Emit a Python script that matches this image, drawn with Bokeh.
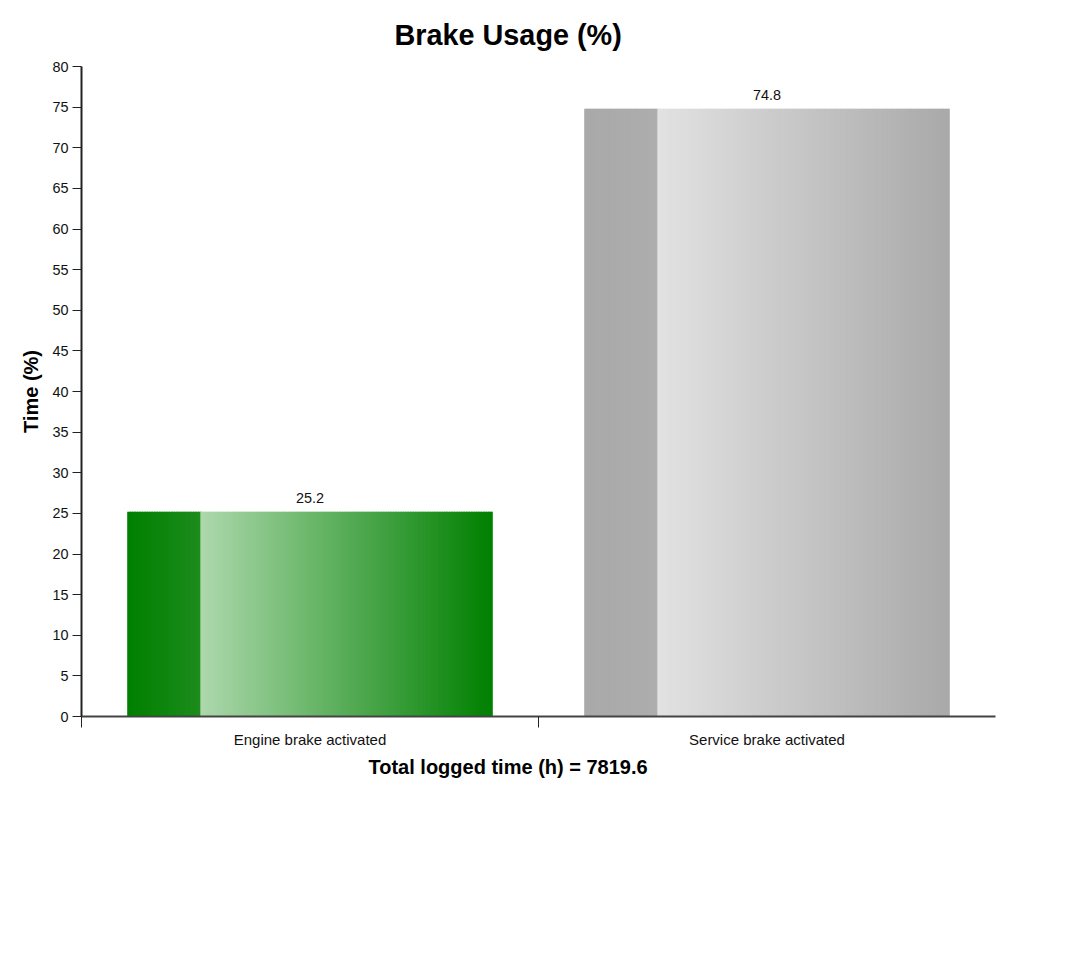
import numpy as np
from bokeh.plotting import figure
from bokeh.models import FixedTicker, Range1d, Title, ColumnDataSource
from bokeh.embed import file_html
from bokeh.resources import INLINE
from bokeh.core.properties import value

# ---- data ----
categories = ["Engine brake activated", "Service brake activated"]
values = [25.2, 74.8]
y_ticks = list(range(0, 81, 5))
total_logged_time = 7819.6
title_text = "Brake Usage (%)"
y_label = "Time (%)"

# gradient stops per bar (position within bar, colour)
stops = [
    [(0.0, "#008000"), (0.2, "#1c8c1c"), (0.2, "#add8ad"), (1.0, "#008000")],
    [(0.0, "#a9a9a9"), (0.2, "#adadad"), (0.2, "#e2e2e2"), (1.0, "#a9a9a9")],
]

FONT = "Liberation Sans"
SMALL = "14.4px"
CAT = "15px"
MED = "20px"
BIG = "28.8px"


def hex2rgb(h):
    h = h.lstrip("#")
    return np.array([int(h[i:i + 2], 16) for i in (0, 2, 4)], dtype=float)


def color_at(t, st):
    for (p0, c0), (p1, c1) in zip(st[:-1], st[1:]):
        if p0 <= t <= p1 and p1 > p0:
            f = (t - p0) / (p1 - p0)
            c = hex2rgb(c0) * (1 - f) + hex2rgb(c1) * f
            return "#%02x%02x%02x" % tuple(int(round(v)) for v in c)
    return st[-1][1]


p = figure(width=1060, height=956, output_backend="svg", toolbar_location=None,
           x_range=Range1d(0, len(categories)), y_range=Range1d(0, 80),
           min_border_left=81, min_border_right=65, min_border_top=66,
           min_border_bottom=240)
p.outline_line_color = None
p.xgrid.grid_line_color = None
p.ygrid.grid_line_color = None
p.background_fill_color = "white"
p.border_fill_color = "white"

# ---- gradient bars ----
pad = 0.1
nslices = 150
left, right, top, bottom, colors = [], [], [], [], []
for i, v in enumerate(values):
    x0 = i + pad
    w = 1 - 2 * pad
    edges = np.linspace(0, 1, nslices + 1)
    step = edges[1] - edges[0]
    for k, (a, b) in enumerate(zip(edges[:-1], edges[1:])):
        bb = b + step * 0.6 if k < nslices - 1 else b
        left.append(x0 + a * w)
        right.append(x0 + bb * w)
        top.append(v)
        bottom.append(0)
        colors.append(color_at((a + b) / 2, stops[i]))
src = ColumnDataSource(dict(left=left, right=right, top=top, bottom=bottom, color=colors))
p.quad(left="left", right="right", top="top", bottom="bottom", source=src,
       fill_color="color", line_color=None)

# value labels
centers = [i + 0.5 for i in range(len(categories))]
p.text(x=centers, y=values, text=[f"{v:.1f}" for v in values],
       text_align="center", text_baseline="bottom", y_offset=-9,
       text_font=value(FONT), text_font_size=SMALL, text_color="#111111")

# ---- axes ----
xa = p.xaxis[0]
xa.ticker = FixedTicker(ticks=centers, minor_ticks=list(range(len(categories))))
xa.major_label_overrides = {c: cat for c, cat in zip(centers, categories)}
xa.major_tick_in = 0
xa.major_tick_out = 0
xa.minor_tick_in = 0
xa.minor_tick_out = 11
xa.minor_tick_line_color = "#222222"
xa.minor_tick_line_width = 1
xa.axis_line_color = "#444444"
xa.axis_line_width = 2
xa.major_label_standoff = 3
xa.major_label_text_font = FONT
xa.major_label_text_font_size = CAT
xa.major_label_text_color = "#111111"

ya = p.yaxis[0]
ya.ticker = FixedTicker(ticks=y_ticks, minor_ticks=[])
ya.major_tick_in = 0
ya.major_tick_out = 9
ya.major_tick_line_color = "#222222"
ya.axis_line_color = "#222222"
ya.axis_line_width = 2
ya.major_label_standoff = 4
ya.major_label_text_font = FONT
ya.major_label_text_font_size = SMALL
ya.major_label_text_color = "#111111"
ya.axis_label = y_label
ya.axis_label_text_font = FONT
ya.axis_label_text_font_size = MED
ya.axis_label_text_font_style = "bold"
ya.axis_label_text_color = "#000000"
ya.axis_label_standoff = 7

# ---- title & x label ----
p.title.text = title_text
p.title.align = "left"
p.title.offset = 313
p.title.standoff = 31
p.title.text_font = FONT
p.title.text_font_size = BIG
p.title.text_font_style = "bold"
p.title.text_color = "#000000"

xt = Title(text=f"Total logged time (h) = {total_logged_time}", align="left", offset=287,
           standoff=6, text_font=FONT, text_font_size=MED, text_font_style="bold",
           text_color="#000000")
p.add_layout(xt, "below")

open("out.html", "w").write(file_html(p, INLINE))
